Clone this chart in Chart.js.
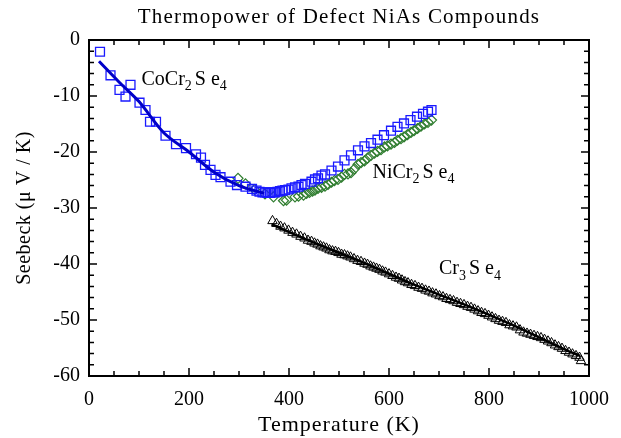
<!DOCTYPE html>
<html>
<head>
<meta charset="utf-8">
<script src="https://cdn.jsdelivr.net/npm/chart.js@4"></script>
<style>
  html, body { margin: 0; padding: 0; background: #fff; }
  #wrap { width: 621px; height: 438px; }
</style>
</head>
<body>
<div id="wrap"><canvas id="thermo"></canvas></div>
<script>
// CoCr2Se4 (blue squares)
const coT = [22, 43, 61, 73, 83, 101, 113, 122, 134, 153, 174, 194, 214, 224, 232, 243, 253, 263, 283, 296, 313, 326,
    335, 341, 347, 352, 357, 362, 367, 372, 377, 382, 387, 392, 399, 405, 412, 419, 425, 432, 445, 452, 458, 465, 472,
    485, 498, 511, 524, 538, 551, 564, 577, 590, 604, 617, 630, 643, 656, 668, 678, 685];
const coS = [-2.1, -6.3, -8.9, -10.1, -8.0, -11.2, -12.5, -14.6, -14.6, -17.1, -18.6, -19.3, -20.4, -21.0, -22.3, -23.2, -24.1, -24.5, -25.3, -25.9, -26.2, -26.6,
    -26.9, -27.1, -27.2, -27.2, -27.3, -27.3, -27.2, -27.2, -27.1, -27.0, -26.9, -26.8, -26.7, -26.5, -26.3, -26.2, -25.9, -25.7, -25.3, -24.9, -24.7, -24.2, -24.0,
    -23.3, -22.6, -21.5, -20.6, -19.7, -19.0, -18.4, -17.8, -17.0, -16.2, -15.5, -14.9, -14.3, -13.7, -13.2, -12.8, -12.5];
const coFitT = [20, 60, 100, 150, 200, 250, 300, 350];
const coFitS = [-3.8, -7.5, -11.0, -16.6, -20.0, -23.6, -26.0, -27.4];

// NiCr2Se4 (green diamonds)
const niT = [298, 313, 331, 352, 369, 389, 395, 412, 419, 429, 435, 441, 447, 452, 458, 465, 472, 478, 485, 491, 498, 505,
    511, 518, 524, 531, 538, 544, 551, 557, 564, 571, 577, 584, 591, 597, 604, 611, 617, 624, 630, 637, 644, 650, 657,
    664, 671, 678, 685];
const niS = [-24.7, -25.7, -26.7, -27.5, -28.0, -28.7, -28.6, -28.0, -27.9, -27.7, -27.4, -27.2, -27.0, -26.8, -26.5, -26.3, -26.1, -25.8, -25.4, -25.1, -24.9, -24.5,
    -24.0, -23.9, -23.7, -23.0, -22.2, -21.9, -21.6, -21.1, -20.6, -20.2, -19.9, -19.6, -19.1, -18.9, -18.6, -18.3, -17.9, -17.6, -17.3, -16.9, -16.5, -16.2, -15.8,
    -15.4, -15.0, -14.7, -14.3];

// Cr3Se4 (black triangles)
const crT = [367, 375, 383, 391, 399, 407, 415, 423, 431, 438, 445, 451, 457, 463, 469, 475, 481, 487, 493, 499, 505, 511,
    517, 523, 530, 537, 544, 551, 557, 563, 569, 575, 581, 587, 593, 600, 607, 614, 620, 626, 632, 638, 645, 652, 659,
    666, 673, 680, 687, 694, 701, 708, 715, 722, 729, 736, 743, 750, 757, 764, 771, 778, 785, 792, 799, 806, 813, 820,
    827, 834, 841, 848, 855, 862, 869, 876, 883, 890, 897, 904, 911, 918, 925, 932, 939, 946, 953, 960, 967, 974, 981, 984];
const crS = [-32.3, -32.8, -33.3, -33.6, -34.0, -34.4, -34.7, -35.1, -35.4, -35.8, -36.0, -36.3, -36.5, -36.8, -37.0, -37.2, -37.5, -37.7, -37.8, -38.0, -38.3, -38.4,
    -38.6, -38.8, -39.1, -39.4, -39.6, -39.9, -40.1, -40.4, -40.6, -40.8, -41.0, -41.3, -41.5, -41.8, -42.1, -42.4, -42.6, -42.9, -43.2, -43.4, -43.7, -43.9, -44.2,
    -44.4, -44.7, -44.9, -45.2, -45.4, -45.7, -45.9, -46.2, -46.4, -46.6, -46.9, -47.1, -47.3, -47.6, -47.8, -48.1, -48.4, -48.7, -48.9, -49.2, -49.5, -49.8, -50.1,
    -50.3, -50.5, -50.9, -51.1, -51.3, -51.8, -52.2, -52.4, -52.6, -52.8, -53.0, -53.2, -53.5, -53.8, -54.1, -54.5, -54.8, -55.1, -55.5, -55.8, -56.1, -56.4, -56.7, -57.3];
const crFitT = [365, 450, 550, 650, 750, 850, 950, 982];
const crFitS = [-32.9, -36.2, -39.8, -43.7, -47.2, -51.0, -55.2, -56.4];

// in-plot compound labels: [temperature, seebeck, text parts]
const compoundLabels = [
    [105, -7.1, [['CoCr'], ['2', 1], ['S e'], ['4', 1]]],
    [567, -23.7, [['NiCr'], ['2', 1], ['S e'], ['4', 1]]],
    [700, -40.9, [['Cr'], ['3', 1], ['S e'], ['4', 1]]],
];

const chartTitle = 'Thermopower of Defect NiAs Compounds';
const xTitle = 'Temperature (K)';
const yTitle = 'Seebeck (μ V / K)';

const serif = "'Liberation Serif', serif";
const pts = (xs, ys) => xs.map((v, i) => ({x: v, y: ys[i]}));

const framePlugin = {
    id: 'frame',
    afterDraw(chart) {
        const {ctx, chartArea: a, scales: {x, y}} = chart;
        const cx = (a.left + a.right) / 2;
        ctx.save();
        ctx.strokeStyle = '#000';
        ctx.lineWidth = 1.5;
        ctx.beginPath();
        for (let v = 0; v <= 1000; v += 50) {
            const px = x.getPixelForValue(v);
            const len = v % 200 === 0 ? 8 : 5;
            ctx.moveTo(px, a.bottom); ctx.lineTo(px, a.bottom - len);
            ctx.moveTo(px, a.top); ctx.lineTo(px, a.top + len);
        }
        for (let v = -60; v <= 0; v += 2) {
            const py = y.getPixelForValue(v);
            const len = v % 10 === 0 ? 8 : 5;
            ctx.moveTo(a.left, py); ctx.lineTo(a.left + len, py);
            ctx.moveTo(a.right, py); ctx.lineTo(a.right - len, py);
        }
        ctx.stroke();
        ctx.lineWidth = 2;
        ctx.strokeRect(a.left, a.top, a.right - a.left, a.bottom - a.top);

        ctx.fillStyle = '#000';
        ctx.textBaseline = 'alphabetic';
        ctx.textAlign = 'center';

        // title and axis titles
        ctx.font = '21px ' + serif;
        ctx.letterSpacing = '1.2px';
        ctx.fillText(chartTitle, cx, a.top - 17);
        ctx.font = '22px ' + serif;
        ctx.letterSpacing = '1px';
        ctx.fillText(xTitle, cx, a.bottom + 55);
        ctx.save();
        ctx.translate(30, (a.top + a.bottom) / 2);
        ctx.rotate(-Math.PI / 2);
        ctx.font = '20px ' + serif;
        ctx.letterSpacing = '0.5px';
        ctx.fillText(yTitle, 0, 0);
        ctx.restore();
        ctx.letterSpacing = '0px';

        // compound names with subscripts
        ctx.textAlign = 'left';
        ctx.textBaseline = 'middle';
        compoundLabels.forEach(([t, s, parts]) => {
            let px = x.getPixelForValue(t);
            const py = y.getPixelForValue(s);
            parts.forEach(([txt, sub]) => {
                ctx.font = (sub ? '14px ' : '20px ') + serif;
                ctx.fillText(txt, px, sub ? py + 7 : py);
                px += ctx.measureText(txt).width + (sub ? 3 : 0);
            });
        });
        ctx.restore();
    }
};

new Chart(document.getElementById('thermo'), {
    type: 'scatter',
    data: {
        datasets: [
            {
                label: 'CoCr2Se4 fit',
                data: pts(coFitT, coFitS),
                showLine: true,
                borderColor: '#0000c8',
                borderWidth: 3,
                pointRadius: 0,
                tension: 0.3,
            },
            {
                label: 'Cr3Se4 fit',
                data: pts(crFitT, crFitS),
                showLine: true,
                borderColor: '#000',
                borderWidth: 2.5,
                pointRadius: 0,
                tension: 0.3,
            },
            {
                label: 'CoCr2Se4',
                data: pts(coT, coS),
                pointStyle: 'rect',
                pointRadius: 6.3,
                pointBorderWidth: 1.3,
                borderColor: '#1a1aff',
                backgroundColor: 'rgba(0,0,0,0)',
            },
            {
                label: 'NiCr2Se4',
                data: pts(niT, niS),
                pointStyle: 'rectRot',
                pointRadius: 5,
                pointBorderWidth: 1.2,
                borderColor: '#2f7d2f',
                backgroundColor: 'rgba(0,0,0,0)',
            },
            {
                label: 'Cr3Se4',
                data: pts(crT, crS),
                pointStyle: 'triangle',
                pointRadius: 5.5,
                pointBorderWidth: 1,
                borderColor: '#000',
                backgroundColor: 'rgba(0,0,0,0)',
            },
        ]
    },
    options: {
        responsive: true,
        maintainAspectRatio: false,
        animation: false,
        layout: { padding: { left: 0, right: 28, top: 40, bottom: 0 } },
        plugins: {
            legend: { display: false },
            tooltip: { enabled: false },
            title: { display: false },
        },
        scales: {
            x: {
                type: 'linear',
                min: 0,
                max: 1000,
                ticks: {
                    stepSize: 200, color: '#000', font: { family: serif, size: 20 }, padding: 12, maxRotation: 0,
                    callback: v => String(v),
                },
                grid: { display: false, drawTicks: false, tickLength: 0 },
                border: { display: false },
                afterFit(scale) { scale.height = 62; },
            },
            y: {
                type: 'linear',
                min: -60,
                max: 0,
                ticks: {
                    stepSize: 10, color: '#000', font: { family: serif, size: 20 }, padding: 9,
                    callback: v => String(v),
                },
                grid: { display: false, drawTicks: false, tickLength: 0 },
                border: { display: false },
                afterFit(scale) { scale.width = 89; },
            }
        }
    },
    plugins: [framePlugin]
});
</script>
</body>
</html>
